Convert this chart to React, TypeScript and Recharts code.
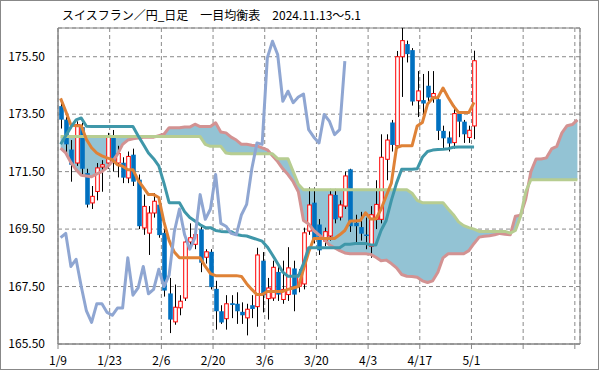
import React from "react";
import {
  ComposedChart, Bar, Line, Area, XAxis, YAxis, CartesianGrid, ReferenceArea,
} from "recharts";

const tickLabels = ["1/9", "1/23", "2/6", "2/20", "3/6", "3/20", "4/3", "4/17", "5/1", "", ""];
const yTicks = [165.5, 167.5, 169.5, 171.5, 173.5, 175.5];

// daily candles, 1/9 .. 5/1
const opens = [
  173.78, 173.31, 172.27, 171.8, 173.05, 171.45, 170.41, 170.81, 171.66, 171.8,
  172.67, 171.8, 171.81, 171.28, 172.09, 171.22, 169.54, 169.36, 170.06, 170.35,
  169.37, 167.26, 166.27, 166.76, 167.1, 169.05, 168.97, 169.49, 168.52, 168.71,
  167.42, 166.64, 166.38, 166.92, 166.9, 166.62, 166.41, 166.85, 166.8, 168.4,
  167.08, 167.1, 168.01, 167.05, 167.22, 168.13, 167.51, 167.59, 169.43, 170.42,
  169.66, 169.08, 169.26, 170.69, 169.92, 170.3, 171.58, 169.72, 169.57, 169.31,
  168.9, 169.84, 169.84, 171.93, 173.21, 172.4, 175.5, 175.94, 175.73, 173.97,
  173.99, 174.49, 174.1, 174.02, 172.92, 172.69, 172.51, 173.52, 173.24, 172.69,
  173.09,
];
const highs = [
  173.9, 173.4, 172.6, 173.25, 173.2, 171.6, 171.0, 171.8, 171.9, 172.85,
  172.95, 172.4, 172.0, 172.2, 172.3, 171.4, 170.7, 170.3, 170.75, 170.5,
  169.5, 167.8, 167.57, 167.2, 169.26, 169.7, 169.5, 169.66, 168.8, 168.8,
  167.7, 166.85, 167.2, 167.2, 167.3, 166.95, 166.9, 167.2, 168.85, 168.7,
  167.8, 168.4, 168.25, 168.4, 168.87, 168.4, 168.1, 169.55, 170.95, 170.95,
  169.85, 169.55, 170.9, 170.9, 170.5, 171.5, 171.6, 170.0, 170.1, 169.9,
  170.3, 171.2, 172.8, 172.8, 173.3, 175.7, 176.5, 176.06, 175.8, 175.0,
  174.9, 175.0, 175.0, 174.2, 173.1, 172.9, 173.8, 173.6, 173.3, 173.1,
  175.71,
];
const lows = [
  173.0, 172.1, 171.15, 171.7, 171.4, 170.25, 170.2, 170.5, 170.8, 171.6,
  171.5, 171.3, 171.1, 171.1, 171.0, 169.5, 169.3, 168.6, 169.9, 169.2,
  167.15, 165.88, 166.17, 166.5, 167.0, 168.9, 168.8, 168.0, 168.3, 167.4,
  166.0, 166.2, 166.0, 166.4, 166.2, 166.2, 165.8, 166.4, 166.1, 166.6,
  166.35, 167.0, 167.0, 166.9, 167.0, 166.64, 167.3, 167.4, 169.3, 169.0,
  168.6, 168.9, 169.1, 169.7, 169.8, 170.2, 169.4, 169.0, 169.1, 168.8,
  168.5, 169.5, 169.7, 171.2, 172.2, 172.3, 174.1, 175.3, 173.8, 173.4,
  173.3, 173.9, 173.9, 172.6, 172.3, 172.2, 172.3, 172.7, 172.5, 172.5,
  172.63,
];
const closes = [
  173.31, 172.45, 171.74, 173.14, 171.6, 170.35, 170.64, 171.63, 171.74, 172.7,
  171.8, 172.13, 171.29, 172.03, 171.15, 169.6, 170.29, 170.06, 170.47, 169.29,
  167.36, 166.35, 166.78, 166.99, 169.05, 169.2, 169.31, 168.33, 168.71, 167.48,
  166.64, 166.25, 166.9, 166.86, 166.64, 166.5, 166.71, 166.72, 168.6, 167.2,
  167.45, 168.17, 167.22, 167.4, 168.15, 167.22, 167.92, 169.37, 170.34, 169.13,
  168.76, 169.41, 170.69, 169.84, 170.34, 171.35, 169.6, 169.6, 169.34, 169.26,
  170.0, 170.36, 172.0, 172.6, 172.43, 175.5, 176.06, 175.59, 173.94, 174.31,
  173.87, 174.08, 174.22, 172.92, 172.66, 172.48, 173.52, 173.24, 172.8, 172.94,
  175.36,
];

// 転換線
const tenkan = [
  174.05, 173.6, 173.12, 173.1, 173.1, 172.62, 172.33, 172.15, 172.05, 171.98,
  171.92, 171.74, 171.69, 171.57, 171.57, 171.2, 170.95, 170.7, 170.7, 170.6,
  169.75, 169.1, 168.7, 168.5, 168.5, 168.5, 168.5, 168.5, 168.2, 167.95,
  167.88, 167.88, 167.88, 167.88, 167.88, 167.85, 167.6, 167.4, 167.22, 167.22,
  167.33, 167.33, 167.33, 167.33, 167.4, 167.45, 167.5, 168.1, 168.7, 169.17,
  169.17, 169.17, 169.17, 169.17, 169.3, 169.45, 169.78, 169.78, 169.8, 170.07,
  169.85, 169.85, 170.19, 170.65, 171.1, 172.34, 172.4, 172.4, 172.4, 173.09,
  173.21, 173.85, 174.06, 174.08, 174.41, 174.08, 173.79, 173.56, 173.56, 173.56,
  173.91,
];
// 基準線
const kijun = [
  172.45, 172.75, 173.05, 173.3, 173.37, 173.08, 173.07, 173.07, 173.07, 173.07,
  173.07, 173.07, 173.07, 173.07, 173.07, 172.75, 172.45, 172.15, 171.95, 171.7,
  171.1, 170.42, 170.42, 170.42, 170.1, 169.9, 169.78, 169.65, 169.55, 169.55,
  169.45, 169.42, 169.41, 169.41, 169.31, 169.28, 169.26, 169.2, 169.14, 169.08,
  168.88, 168.6, 168.3, 168.0, 167.86, 167.86, 167.86, 168.3, 168.85, 168.85,
  168.85, 168.85, 168.85, 168.85, 168.85, 168.97, 168.97, 169.0, 169.0, 169.0,
  168.95, 168.95, 169.45, 169.8, 170.5, 171.1, 171.58, 171.58, 171.58, 171.6,
  172.0, 172.2, 172.25, 172.27, 172.28, 172.3, 172.35, 172.36, 172.36, 172.36,
  172.36,
];
// 先行スパン1
const spanA = [
  172.32, 172.15, 171.82, 171.57, 171.37, 171.35, 171.32, 171.42, 171.5, 171.65,
  171.85, 172.1, 172.45, 172.6, 172.64, 172.67, 172.7, 172.7, 172.7, 172.75,
  172.8, 173.03, 173.03, 173.03, 173.05, 173.05, 173.15, 173.07, 173.07, 173.07,
  173.2, 172.88, 172.85, 172.7, 172.6, 172.45, 172.45, 172.42, 172.4, 172.33,
  172.26, 172.05, 171.85, 171.6, 171.4, 171.15, 170.8, 169.8, 169.68, 169.45,
  169.3, 169.15, 168.95, 168.85, 168.75, 168.67, 168.64, 168.64, 168.64, 168.64,
  168.62, 168.52, 168.4, 168.42, 168.3, 168.15, 167.92, 167.86, 167.85, 167.82,
  167.7, 167.64, 167.7, 168.0, 168.5, 168.64, 168.64, 168.64, 168.64, 168.75,
  169.0, 169.22, 169.25, 169.27, 169.3, 169.35, 169.32, 169.3, 169.95, 169.98,
  170.55, 171.5, 171.94, 171.94, 171.98, 172.29, 172.38, 172.85, 173.1, 173.14,
  173.3,
];
// 先行スパン2
const spanB = [
  172.72, 172.72, 172.72, 172.72, 172.72, 172.72, 172.72, 172.72, 172.72, 172.72,
  172.72, 172.72, 172.72, 172.72, 172.72, 172.72, 172.72, 172.72, 172.72, 172.72,
  172.72, 172.72, 172.72, 172.72, 172.72, 172.72, 172.72, 172.72, 172.45, 172.38,
  172.38, 172.38, 172.15, 172.12, 172.12, 172.12, 172.12, 172.12, 172.12, 172.12,
  172.12, 172.12, 171.95, 171.95, 171.95, 171.5, 171.06, 170.87, 170.87, 170.87,
  170.87, 170.87, 170.87, 170.87, 170.87, 170.87, 170.87, 170.87, 170.87, 170.87,
  170.87, 170.87, 170.87, 170.87, 170.87, 170.87, 170.87, 170.87, 170.75, 170.5,
  170.42, 170.42, 170.42, 170.42, 170.42, 170.2, 170.0, 169.75, 169.62, 169.55,
  169.5, 169.42, 169.42, 169.42, 169.42, 169.42, 169.42, 169.36, 169.45, 169.95,
  170.8, 171.22, 171.22, 171.22, 171.22, 171.22, 171.22, 171.22, 171.22, 171.22,
  171.22,
];
// 遅行スパン
const chikou = [
  169.2, 169.35, 168.2, 168.45, 167.5, 166.65, 166.25, 166.9, 166.9, 166.6,
  166.5, 166.75, 166.75, 168.5, 167.2, 167.45, 168.2, 167.25, 167.4, 168.1,
  167.5, 167.9, 169.4, 170.2, 169.3, 168.8, 169.2, 170.7, 169.84, 170.2,
  171.4, 169.7, 169.6, 169.35, 169.3, 170.0, 170.36, 171.6, 172.5, 172.45,
  175.46, 176.04, 175.58, 173.95, 174.3, 173.9, 174.1, 174.2, 172.96, 172.7,
  172.5, 173.49, 173.26, 172.79, 172.96, 175.35,
];

const rows = spanA.map((a, i) => {
  const b = spanB[i];
  const hasCandle = i < opens.length;
  return {
    i,
    range: hasCandle ? [lows[i], highs[i]] : null,
    open: hasCandle ? opens[i] : null,
    high: hasCandle ? highs[i] : null,
    low: hasCandle ? lows[i] : null,
    close: hasCandle ? closes[i] : null,
    tenkan: i < tenkan.length ? tenkan[i] : null,
    kijun: i < kijun.length ? kijun[i] : null,
    spanA: a,
    spanB: b,
    cloud: [Math.min(a, b), Math.max(a, b)],
    chikou: i < chikou.length ? chikou[i] : null,
  };
});

const Candle = (props: any) => {
  const { x, y, width, height, payload } = props;
  if (!payload || payload.open == null) return null;
  const { open, close, high, low } = payload;
  const top = Math.min(y, y + height);
  const h = Math.abs(height);
  const span = high - low;
  const py = (v: number) => (span === 0 ? top : top + ((high - v) / span) * h);
  const cx = Math.round(x + width / 2) + 0.5;
  const yo = py(open);
  const yc = py(close);
  const bt = Math.min(yo, yc);
  const bh = Math.max(Math.abs(yc - yo), 1);
  const bw = 3.6;
  const up = close >= open;
  return (
    <g>
      <line x1={cx} x2={cx} y1={top} y2={top + h} stroke="#000" strokeWidth={1} />
      {up ? (
        <rect x={cx - bw / 2} y={bt} width={bw} height={bh} fill="#fff" stroke="#FF0000" strokeWidth={1} />
      ) : (
        <rect x={cx - bw / 2 - 0.5} y={bt} width={bw + 1} height={bh} fill="#0070C0" />
      )}
    </g>
  );
};

const font = "'Noto Sans CJK JP', 'Noto Sans', sans-serif";

export default function App() {
  return (
    <div style={{ position: "relative", width: 599, height: 370, background: "#fff", fontFamily: font }}>
      <style>{"body{margin:0}"}</style>
      <div style={{ position: "absolute", left: 62, top: 6, fontSize: 12, color: "#000", whiteSpace: "pre" }}>
        スイスフラン／円_日足　一目均衡表　2024.11.13～5.1
      </div>
      <ComposedChart width={599} height={370} data={rows} margin={{ top: 28, right: 19, bottom: 0, left: 0 }}>
        <CartesianGrid stroke="#8a8a8a" strokeDasharray="4 3" />
        <XAxis
          dataKey="i"
          type="number"
          domain={[-0.5, 100.5]}
          ticks={[-0.5, 9.5, 19.5, 29.5, 39.5, 49.5, 59.5, 69.5, 79.5, 89.5, 99.5]}
          tickFormatter={(v: number) => tickLabels[Math.round((v + 0.5) / 10)] ?? ""}
          interval={0}
          height={26}
          tickSize={5}
          tickMargin={7}
          axisLine={{ stroke: "#868686" }}
          tickLine={{ stroke: "#868686" }}
          tick={{ fill: "#000", fontSize: 12, fontFamily: font }}
          allowDataOverflow
        />
        <YAxis
          domain={[165.5, 176.5]}
          ticks={yTicks}
          tickFormatter={(v: number) => v.toFixed(2)}
          width={58}
          tickSize={0}
          tickMargin={13}
          axisLine={{ stroke: "#868686" }}
          tickLine={false}
          tick={{ fill: "#000", fontSize: 12, fontFamily: font }}
          allowDataOverflow
        />
        <Area dataKey="cloud" stroke="none" fill="#93C3D4" fillOpacity={1} isAnimationActive={false} />
        <Line dataKey="spanA" stroke="#D39292" strokeWidth={3} dot={false} isAnimationActive={false} strokeLinejoin="round" />
        <Line dataKey="spanB" stroke="#B7CD91" strokeWidth={3} dot={false} isAnimationActive={false} strokeLinejoin="round" />
        <Bar dataKey="range" barSize={4} shape={<Candle />} isAnimationActive={false} />
        <Line dataKey="tenkan" stroke="#DF8237" strokeWidth={3} dot={false} isAnimationActive={false} strokeLinejoin="round" />
        <Line dataKey="kijun" stroke="#3F97A9" strokeWidth={3} dot={false} isAnimationActive={false} strokeLinejoin="round" />
        <Line dataKey="chikou" stroke="#8FA6D2" strokeWidth={3} dot={false} isAnimationActive={false} strokeLinejoin="round" />
        <ReferenceArea x1={-0.5} x2={100.5} y1={165.5} y2={176.5} fill="none" stroke="#868686" ifOverflow="visible" />
      </ComposedChart>
      <div style={{ position: "absolute", inset: 0, border: "1px solid #888", pointerEvents: "none" }} />
    </div>
  );
}
